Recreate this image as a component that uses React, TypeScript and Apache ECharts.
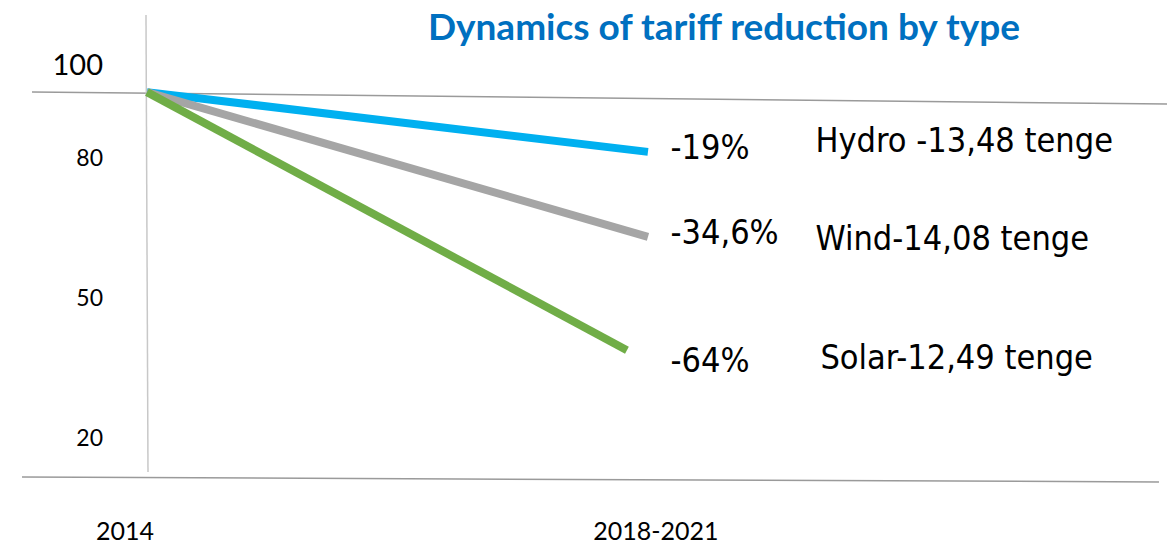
import React, { useEffect, useRef } from "react";
import * as echarts from "echarts";

// ---- data ----
const xCategories = ["2014", "2018-2021"];
const xPositions = [0, 1];
const yTicks = [100, 80, 50, 20];
const seriesNames = ["Hydro", "Wind", "Solar"];
const hydroValues = [93.9, 81.1];
const windValues = [93.9, 62.9];
const solarValues = [93.9, 38.6];
const endX = [1, 1, 0.958];
const percentLabels = ["-19%", "-34,6%", "-64%"];
const tariffLabels = ["Hydro -13,48 tenge", "Wind-14,08 tenge", "Solar-12,49 tenge"];
const title = "Dynamics of tariff reduction by type";

// reference lines (in data coordinates)
const topRule = [[-0.2295, 93.93], [2.036, 91.36]];
const bottomRule = [[-0.2495, 11.43], [2.02, 10.36]];
const verticalRule = [[-0.002, 110.43], [0.002, 12.5]];

const colors = ["#00B0F0", "#A5A5A5", "#70AD47"];
const pctOffsets = [[22, -5], [22, -5], [43, 10]];
const nameOffsets = [[167, -12], [167, 1], [193, 7]];

export default function App() {
  const ref = useRef<HTMLDivElement>(null);
  useEffect(() => {
    if (!ref.current) return;
    const chart = echarts.init(ref.current, undefined, { renderer: "svg" });
    const valuesList = [hydroValues, windValues, solarValues];
    const labelFont = { color: "#000", fontFamily: "DejaVu Sans Condensed", fontSize: 34 };
    const lineSeries = seriesNames.map((name, i) => ({
      name,
      type: "line",
      data: [
        [xPositions[0], valuesList[i][0]],
        [endX[i], valuesList[i][1]],
      ],
      showSymbol: false,
      symbol: "none",
      lineStyle: { color: colors[i], width: 8, cap: "butt" },
      z: 3,
      markPoint: {
        symbol: "circle",
        symbolSize: 1,
        itemStyle: { color: "rgba(0,0,0,0)" },
        silent: true,
        data: [
          {
            coord: [endX[i], valuesList[i][1]],
            label: {
              show: true,
              position: "right",
              distance: 0,
              offset: pctOffsets[i],
              formatter: percentLabels[i],
              ...labelFont,
            },
          },
          {
            coord: [endX[i], valuesList[i][1]],
            label: {
              show: true,
              position: "right",
              distance: 0,
              offset: nameOffsets[i],
              formatter: tariffLabels[i],
              ...labelFont,
            },
          },
        ],
      },
    }));
    const ruleSeries = [topRule, bottomRule, verticalRule].map((d, i) => ({
      name: "rule" + i,
      type: "line",
      data: d,
      symbol: "none",
      showSymbol: false,
      silent: true,
      lineStyle: { color: i === 2 ? "#C8C8C8" : "#9A9A9A", width: 1.5 },
      z: 1,
    }));
    chart.setOption({
      animation: false,
      title: {
        text: title,
        left: 428,
        top: 7,
        padding: 0,
        textStyle: {
          color: "#0070C0",
          fontFamily: "Lato",
          fontWeight: "bold",
          fontSize: 37,
        },
      },
      grid: { left: 0, right: 0, top: 10, height: 480, containLabel: false },
      xAxis: {
        type: "value",
        min: -0.2934,
        max: 2.036,
        axisLine: { show: false },
        axisTick: { show: false },
        splitLine: { show: false },
        axisLabel: {
          customValues: xPositions,
          margin: 27,
          formatter: (v: number) => {
            const idx = xPositions.indexOf(v);
            const t = idx >= 0 ? xCategories[idx] : "";
            return idx === 0 ? "{a|" + t + "}" : "{b|" + t + "}";
          },
          rich: {
            a: { fontFamily: "Lato", fontSize: 25, color: "#000", padding: [0, 44, 0, 0] },
            b: { fontFamily: "Lato", fontSize: 25, color: "#000", padding: [0, 0, 0, 16] },
          },
        },
      },
      yAxis: {
        type: "value",
        min: 8.643,
        max: 111.5,
        axisLine: { show: false },
        axisTick: { show: false },
        splitLine: { show: false },
        axisLabel: {
          customValues: yTicks,
          inside: true,
          align: "right",
          margin: 103,
          formatter: (v: number) => (v === 100 ? "{big|" + v + "}" : "{n|" + v + "}"),
          rich: {
            big: { fontFamily: "Lato", fontSize: 29, color: "#000" },
            n: { fontFamily: "Lato", fontSize: 23, color: "#000" },
          },
        },
      },
      series: [...ruleSeries, ...lineSeries],
    });
    return () => chart.dispose();
  }, []);
  return (
    <div
      ref={ref}
      style={{ position: "fixed", left: 0, top: 0, width: 1167, height: 543, background: "#fff" }}
    />
  );
}
